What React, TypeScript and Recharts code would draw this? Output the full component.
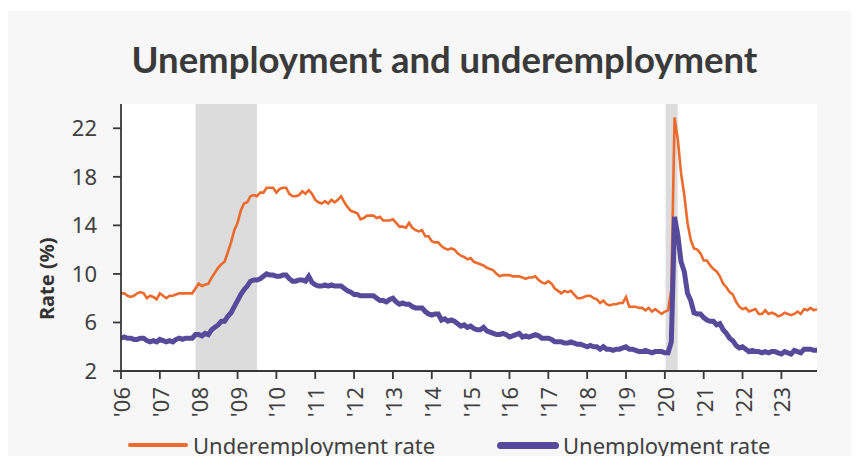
import React from "react";
import {
  CartesianGrid,
  Line,
  LineChart,
  ReferenceArea,
  XAxis,
  YAxis,
} from "recharts";

const startYear = 2006;
const yearTicks = [2006, 2007, 2008, 2009, 2010, 2011, 2012, 2013, 2014, 2015, 2016, 2017, 2018, 2019, 2020, 2021, 2022, 2023];
const rateTicks = [2, 6, 10, 14, 18, 22];

// monthly, one row per year (Jan..Dec)
const underemployment = [
  [8.4, 8.4, 8.2, 8.1, 8.2, 8.4, 8.5, 8.4, 8.0, 8.2, 8.1, 7.9],
  [8.4, 8.2, 8.0, 8.2, 8.2, 8.3, 8.4, 8.4, 8.4, 8.4, 8.4, 8.8],
  [9.2, 9.0, 9.1, 9.2, 9.7, 10.1, 10.5, 10.8, 11.0, 11.8, 12.6, 13.6],
  [14.2, 15.2, 15.8, 15.9, 16.4, 16.5, 16.4, 16.7, 16.7, 17.1, 17.1, 17.1],
  [16.7, 17.0, 17.1, 17.1, 16.6, 16.4, 16.4, 16.5, 16.8, 16.6, 16.9, 16.6],
  [16.1, 15.9, 15.8, 16.0, 15.8, 16.1, 15.9, 16.1, 16.4, 15.9, 15.5, 15.2],
  [15.1, 15.0, 14.5, 14.6, 14.8, 14.8, 14.8, 14.6, 14.7, 14.4, 14.4, 14.4],
  [14.5, 14.2, 13.9, 13.9, 13.8, 14.2, 13.8, 13.6, 13.5, 13.6, 13.1, 13.1],
  [12.7, 12.6, 12.6, 12.3, 12.1, 12.0, 12.1, 12.0, 11.7, 11.5, 11.4, 11.2],
  [11.3, 11.0, 10.9, 10.8, 10.7, 10.5, 10.4, 10.3, 10.0, 9.8, 9.9, 9.9],
  [9.9, 9.8, 9.8, 9.8, 9.7, 9.6, 9.7, 9.7, 9.8, 9.5, 9.3, 9.2],
  [9.4, 9.2, 8.8, 8.6, 8.4, 8.6, 8.5, 8.6, 8.3, 8.0, 8.0, 8.1],
  [8.2, 8.2, 8.0, 7.9, 7.6, 7.8, 7.5, 7.4, 7.5, 7.5, 7.6, 7.6],
  [8.1, 7.3, 7.3, 7.3, 7.2, 7.2, 7.0, 7.2, 6.9, 7.1, 6.9, 6.7],
  [6.9, 7.0, 8.7, 22.9, 21.1, 18.3, 16.5, 14.2, 12.8, 12.1, 12.0, 11.7],
  [11.1, 11.1, 10.7, 10.4, 10.2, 9.8, 9.2, 8.9, 8.5, 8.3, 7.7, 7.3],
  [7.1, 7.2, 6.9, 7.0, 7.1, 6.7, 6.7, 7.0, 6.7, 6.8, 6.7, 6.5],
  [6.6, 6.8, 6.7, 6.6, 6.7, 6.9, 6.7, 7.1, 7.0, 7.2, 7.0, 7.1],
];

const unemployment = [
  [4.7, 4.8, 4.7, 4.7, 4.6, 4.6, 4.7, 4.7, 4.5, 4.4, 4.5, 4.4],
  [4.6, 4.5, 4.4, 4.5, 4.4, 4.6, 4.7, 4.6, 4.7, 4.7, 4.7, 5.0],
  [5.0, 4.9, 5.1, 5.0, 5.4, 5.6, 5.8, 6.1, 6.1, 6.5, 6.8, 7.3],
  [7.8, 8.3, 8.7, 9.0, 9.4, 9.5, 9.5, 9.6, 9.8, 10.0, 9.9, 9.9],
  [9.8, 9.8, 9.9, 9.9, 9.6, 9.4, 9.4, 9.5, 9.5, 9.4, 9.8, 9.3],
  [9.1, 9.0, 9.0, 9.1, 9.0, 9.1, 9.0, 9.0, 9.0, 8.8, 8.6, 8.5],
  [8.3, 8.3, 8.2, 8.2, 8.2, 8.2, 8.2, 8.0, 7.8, 7.8, 7.7, 7.9],
  [8.0, 7.7, 7.5, 7.6, 7.5, 7.5, 7.3, 7.2, 7.2, 7.2, 6.9, 6.7],
  [6.6, 6.7, 6.7, 6.2, 6.3, 6.1, 6.2, 6.1, 5.9, 5.7, 5.8, 5.6],
  [5.7, 5.5, 5.4, 5.4, 5.6, 5.3, 5.2, 5.1, 5.0, 5.0, 5.1, 5.0],
  [4.8, 4.9, 5.0, 5.1, 4.8, 4.9, 4.8, 4.9, 5.0, 4.9, 4.7, 4.7],
  [4.7, 4.6, 4.4, 4.4, 4.4, 4.3, 4.3, 4.4, 4.3, 4.2, 4.2, 4.1],
  [4.0, 4.1, 4.0, 4.0, 3.8, 4.0, 3.8, 3.8, 3.7, 3.8, 3.8, 3.9],
  [4.0, 3.8, 3.8, 3.7, 3.6, 3.6, 3.7, 3.6, 3.5, 3.6, 3.6, 3.6],
  [3.5, 3.5, 4.4, 14.7, 13.2, 11.0, 10.2, 8.4, 7.8, 6.8, 6.7, 6.7],
  [6.4, 6.2, 6.1, 6.1, 5.8, 5.9, 5.4, 5.1, 4.7, 4.5, 4.1, 3.9],
  [4.0, 3.8, 3.6, 3.7, 3.6, 3.6, 3.5, 3.6, 3.5, 3.6, 3.6, 3.5],
  [3.4, 3.6, 3.5, 3.4, 3.7, 3.6, 3.5, 3.8, 3.8, 3.8, 3.7, 3.7],
];

const recessions = [
  { from: 2007.92, to: 2009.5 },
  { from: 2020.02, to: 2020.33 },
];

const data = underemployment.flatMap((row, y) =>
  row.map((u, m) => ({
    t: startYear + y + m / 12,
    under: u,
    unemp: unemployment[y][m],
  }))
);

const font = "'Noto Sans', sans-serif";
const titleFont = "Lato, 'Noto Sans', sans-serif";
const textColor = "#404040";
const orange = "#ec6a2c";
const purple = "#584a9b";

function YearTick(props: any) {
  const { x, y, payload } = props;
  return (
    <text
      x={0}
      y={0}
      transform={`translate(${x + 9},${y + 6}) rotate(-90)`}
      textAnchor="end"
      fill={textColor}
      fontSize={22}
      fontFamily={font}
    >
      {"'" + String(payload.value).slice(2)}
    </text>
  );
}

export default function App() {
  return (
    <div
      style={{
        position: "relative",
        top: 3,
        width: 851,
        height: 448,
        background: "#f7f7f7",
        fontFamily: font,
      }}
    >
      <div
        style={{
          position: "absolute",
          top: 26,
          left: 11,
          width: 851,
          textAlign: "center",
          fontSize: 36.5,
          fontWeight: 700,
          fontFamily: titleFont,
          color: "#3a3a3a",
        }}
      >
        Unemployment and underemployment
      </div>
      <div style={{ position: "absolute", top: 0, left: 0 }}>
        <LineChart
          width={851}
          height={448}
          data={data}
          margin={{ top: 93, right: 42, bottom: 28, left: 53 }}
        >
          <CartesianGrid fill="#ffffff" stroke="none" />
          {recessions.map((r) => (
            <ReferenceArea
              key={r.from}
              x1={r.from}
              x2={r.to}
              fill="#dcdcdc"
              fillOpacity={1}
              stroke="none"
            />
          ))}
          <XAxis
            type="number"
            dataKey="t"
            domain={[startYear, 2023 + 11 / 12]}
            ticks={yearTicks}
            interval={0}
            height={60}
            tickSize={8}
            stroke="#383838"
            strokeWidth={1.8}
            tick={<YearTick />}
          />
          <YAxis
            type="number"
            domain={[2, 24]}
            ticks={rateTicks}
            width={60}
            tickSize={8}
            tickMargin={16}
            stroke="#383838"
            strokeWidth={1.8}
            tick={{ fill: textColor, fontSize: 22, fontFamily: font }}
            label={{
              value: "Rate (%)",
              angle: -90,
              position: "left",
              offset: 14,
              fill: "#333",
              fontSize: 20,
              fontWeight: 700,
              fontFamily: font,
            }}
          />
          <Line
            type="linear"
            dataKey="under"
            stroke={orange}
            strokeWidth={2.6}
            dot={false}
            isAnimationActive={false}
          />
          <Line
            type="linear"
            dataKey="unemp"
            stroke={purple}
            strokeWidth={5}
            dot={false}
            isAnimationActive={false}
          />
        </LineChart>
      </div>
      <div
        style={{
          position: "absolute",
          top: 419,
          left: 120,
          display: "flex",
          alignItems: "center",
          fontSize: 22,
          color: textColor,
        }}
      >
        <span style={{ width: 60, height: 4.5, borderRadius: 2, background: orange, marginRight: 5 }} />
        <span style={{ width: 304 }}>Underemployment rate</span>
        <span style={{ width: 62, height: 7, borderRadius: 4, background: purple, marginRight: 4 }} />
        <span>Unemployment rate</span>
      </div>
    </div>
  );
}
